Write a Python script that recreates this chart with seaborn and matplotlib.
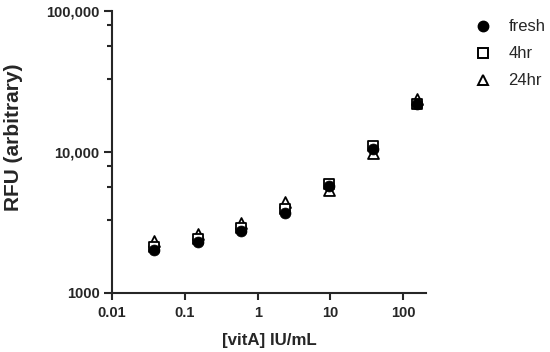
import matplotlib
matplotlib.use("Agg")
import matplotlib.pyplot as plt
import matplotlib.ticker as mticker
from matplotlib.lines import Line2D
import seaborn as sns
import pandas as pd

# ---- data ----
conc = [0.0375, 0.15, 0.6, 2.4, 9.6, 38.4, 153.6]
fresh = [2000, 2290, 2740, 3700, 5750, 10500, 22000]
hr4 = [2110, 2400, 2880, 3900, 5930, 11050, 22000]
hr24 = [2330, 2600, 3120, 4400, 5370, 9860, 23800]
series_names = ["fresh", "4hr", "24hr"]
x_ticks = [0.01, 0.1, 1, 10, 100]
x_ticklabels = ["0.01", "0.1", "1", "10", "100"]
y_ticks = [1000, 10000, 100000]
y_ticklabels = ["1000", "10,000", "100,000"]

df = pd.DataFrame({
    "conc": conc * 3,
    "rfu": fresh + hr4 + hr24,
    "group": sum([[n] * len(conc) for n in series_names], []),
})

sns.set_style("ticks")
plt.rcParams["font.family"] = ["Liberation Sans", "DejaVu Sans"]

fig = plt.figure(figsize=(5.5, 3.52), dpi=100)
ax = fig.add_axes([112/550, (352-292.5)/352, (426-112)/550, (292.5-11)/352])

styles = {
    "24hr": dict(marker="^", facecolor="white", edgecolor="black", s=62, linewidth=1.3),
    "4hr": dict(marker="s", facecolor="white", edgecolor="black", s=58, linewidth=1.3),
    "fresh": dict(marker="o", facecolor="black", edgecolor="black", s=62, linewidth=0.5),
}
for name in ["24hr", "4hr", "fresh"]:
    sub = df[df["group"] == name]
    st = styles[name]
    sns.scatterplot(data=sub, x="conc", y="rfu", ax=ax, marker=st["marker"],
                    color=st["facecolor"], edgecolor=st["edgecolor"], s=st["s"],
                    linewidth=st["linewidth"], label=name, legend=False, zorder=3,
                    clip_on=False)

ax.set_xscale("log")
ax.set_yscale("log")
ax.set_xlim(0.01, 205)
ax.set_ylim(1000, 100000)

ax.xaxis.set_major_locator(mticker.FixedLocator(x_ticks))
ax.xaxis.set_major_formatter(mticker.FixedFormatter(x_ticklabels))
ax.xaxis.set_minor_locator(mticker.NullLocator())
ax.yaxis.set_major_locator(mticker.FixedLocator(y_ticks))
ax.yaxis.set_major_formatter(mticker.FixedFormatter(y_ticklabels))
minor_y = [f * d for d in [1000, 10000] for f in (3.3, 5.6, 7.9)]
ax.yaxis.set_minor_locator(mticker.FixedLocator(minor_y))
ax.yaxis.set_minor_formatter(mticker.NullFormatter())

for sp in ["top", "right"]:
    ax.spines[sp].set_visible(False)
for sp in ["left", "bottom"]:
    ax.spines[sp].set_linewidth(1.5)
ax.tick_params(axis="x", which="major", length=5, width=1.5, direction="out",
               labelsize=10.5, pad=5)
ax.tick_params(axis="y", which="major", length=6, width=1.5, direction="out",
               labelsize=10.5, pad=3)
ax.tick_params(axis="y", which="minor", length=3.6, width=1.5, direction="out")
for lab in ax.get_xticklabels() + ax.get_yticklabels():
    lab.set_fontweight("bold")

ax.set_xlabel("[vitA] IU/mL", fontsize=12.2, fontweight="bold", labelpad=9)
ax.set_ylabel("RFU (arbitrary)", fontsize=15, fontweight="bold")
ax.yaxis.set_label_coords(-89/314, 0.55)

leg_handles = [
    Line2D([], [], linestyle="none", marker="o", markerfacecolor="black",
           markeredgecolor="black", markersize=7.5),
    Line2D([], [], linestyle="none", marker="s", markerfacecolor="white",
           markeredgecolor="black", markersize=7, markeredgewidth=1.4),
    Line2D([], [], linestyle="none", marker="^", markerfacecolor="white",
           markeredgecolor="black", markersize=7.5, markeredgewidth=1.4),
]
fig.legend(leg_handles, series_names, loc="upper left",
           bbox_to_anchor=(458/550, 1 - 4.5/352), bbox_transform=fig.transFigure,
           frameon=False, fontsize=12, handletextpad=0.92, labelspacing=0.72,
           handlelength=1.2, borderpad=0.4)

fig.savefig("out.png", dpi=100)
